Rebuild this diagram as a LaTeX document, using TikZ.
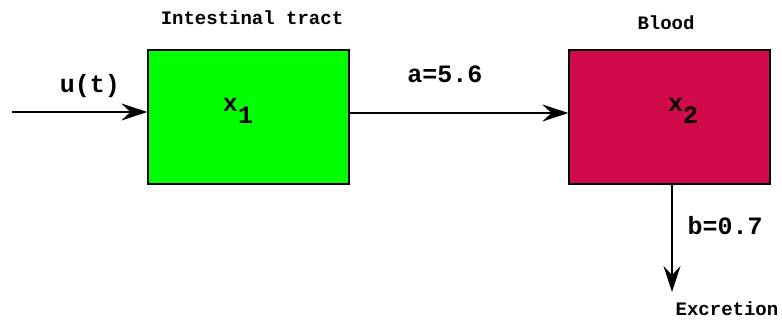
\documentclass[tikz,border=0pt]{standalone}
\usepackage{fontspec}
\setmainfont{Liberation Mono}
\usetikzlibrary{arrows.meta}
\definecolor{gutgreen}{RGB}{0,255,0}
\definecolor{bloodred}{RGB}{209,10,76}
\tikzset{
  compartment/.style={draw=black, line width=1.2pt, minimum width=201pt, minimum height=134pt, inner sep=0pt},
  flow/.style={line width=1.8pt, -{Stealth[length=26pt,width=17pt,inset=9pt]}},
  biglabel/.style={font=\fontsize{25}{25}\selectfont\bfseries, inner sep=0pt, anchor=base},
  smalllabel/.style={font=\fontsize{19}{19}\selectfont\bfseries, inner sep=0pt, anchor=base},
}
\newcommand{\stateval}[1]{x\raisebox{-12pt}{#1}}
\begin{document}
\begin{tikzpicture}[x=1pt, y=-1pt]
  \useasboundingbox (0,0) rectangle (782,320);
  % compartments
  \node[compartment, fill=gutgreen] (gut) at (248.5,117) {};
  \node[compartment, fill=bloodred] (blood) at (669.5,117) {};
  % titles
  \node[smalllabel] (guttitle) at (252,25) {Intestinal tract};
  \node[smalllabel] (bloodtitle) at (666,30) {Blood};
  % state variables
  \node[biglabel] (x1) at (238,112) {\stateval{1}};
  \node[biglabel] (x2) at (683,112) {\stateval{2}};
  % flows
  \coordinate (in) at (12,112);
  \coordinate (out) at (672,292);
  \draw[flow] (in) -- (gut.west |- in);
  \draw[flow] (gut.east |- 0,113) -- (blood.west |- 0,113);
  \draw[flow] (blood.south -| out) -- (out);
  % rate labels
  \node[biglabel] (u) at (90,93) {u(t)};
  \node[biglabel] (a) at (445,83) {a=5.6};
  \node[biglabel] (b) at (725,235) {b=0.7};
  \node[smalllabel] (exc) at (727,316) {Excretion};
\end{tikzpicture}
\end{document}
